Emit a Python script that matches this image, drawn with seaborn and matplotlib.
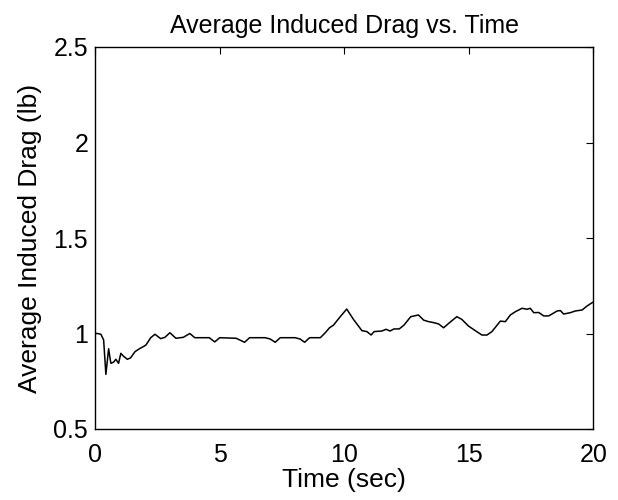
import numpy as np
import pandas as pd
import matplotlib
matplotlib.use("Agg")
import matplotlib.pyplot as plt
import seaborn as sns

# values
time_sec = [0.0, 0.09, 0.23, 0.34, 0.43, 0.54, 0.63, 0.74, 0.83, 0.94, 1.03, 1.13,
            1.29, 1.42, 1.6, 1.8, 1.93, 2.04, 2.23, 2.4, 2.63, 2.8, 3.0, 3.24,
            3.54, 3.8, 4.0, 4.58, 4.8, 5.0, 5.66, 6.0, 6.2, 6.83, 7.03, 7.23,
            7.43, 8.03, 8.23, 8.41, 8.61, 9.04, 9.24, 9.41, 9.57, 9.84, 10.1,
            10.37, 10.71, 10.91, 11.08, 11.2, 11.51, 11.68, 11.84, 12.0, 12.21,
            12.4, 12.67, 12.98, 13.19, 13.39, 13.59, 13.79, 13.99, 14.23, 14.52,
            14.72, 14.99, 15.26, 15.53, 15.73, 15.93, 16.27, 16.47, 16.67, 16.87,
            17.14, 17.34, 17.47, 17.61, 17.81, 18.01, 18.21, 18.55, 18.68, 18.81,
            19.08, 19.28, 19.55, 19.75, 19.95, 20.0]
drag_lb = [1.0, 1.0, 0.996, 0.966, 0.786, 0.92, 0.844, 0.85, 0.865, 0.844, 0.896, 0.882,
           0.865, 0.872, 0.905, 0.922, 0.931, 0.94, 0.978, 0.996, 0.973, 0.98, 1.004, 0.975,
           0.98, 1.0, 0.978, 0.978, 0.956, 0.978, 0.975, 0.954, 0.978, 0.978, 0.971, 0.954,
           0.978, 0.978, 0.971, 0.954, 0.978, 0.978, 1.004, 1.03, 1.044, 1.088, 1.128,
           1.074, 1.015, 1.01, 0.992, 1.01, 1.013, 1.022, 1.013, 1.024, 1.024,
           1.044, 1.088, 1.097, 1.07, 1.062, 1.057, 1.05, 1.03, 1.057, 1.088,
           1.074, 1.039, 1.015, 0.992, 0.992, 1.01, 1.065, 1.062, 1.097, 1.114,
           1.132, 1.127, 1.132, 1.109, 1.11, 1.092, 1.092, 1.118, 1.12, 1.102,
           1.109, 1.118, 1.123, 1.144, 1.161, 1.165]

df = pd.DataFrame({"time": time_sec, "drag": drag_lb})

sns.set_style("white")
plt.rcParams["font.family"] = ["Liberation Sans", "DejaVu Sans"]
plt.rcParams["text.color"] = "black"
plt.rcParams["axes.labelcolor"] = "black"

fig = plt.figure(figsize=(6.18, 5), dpi=100)
ax = fig.add_axes([0.154, 0.142, 0.806, 0.764])
sns.lineplot(data=df, x="time", y="drag", color="black", linewidth=1.1, ax=ax)

ax.set_xlim(0, 20)
ax.set_ylim(0.5, 2.5)
ax.set_xticks([0, 5, 10, 15, 20])
ax.set_yticks([0.5, 1, 1.5, 2, 2.5])
ax.set_yticklabels(["0.5", "1", "1.5", "2", "2.5"])
ax.tick_params(direction="in", top=True, right=True, length=5, width=0.8,
               labelsize=18, colors="black")
ax.tick_params(axis="x", pad=10)
ax.tick_params(axis="y", pad=5)
for s in ax.spines.values():
    s.set_color("black")
    s.set_linewidth(1.0)

ax.set_xlabel("Time (sec)", fontsize=19, labelpad=1, color="black")
ax.set_ylabel("Average Induced Drag (lb)", fontsize=19, labelpad=8, color="black")
ax.set_title("Average Induced Drag vs. Time", fontsize=18, pad=10, color="black")

fig.savefig("out.png", dpi=100)
